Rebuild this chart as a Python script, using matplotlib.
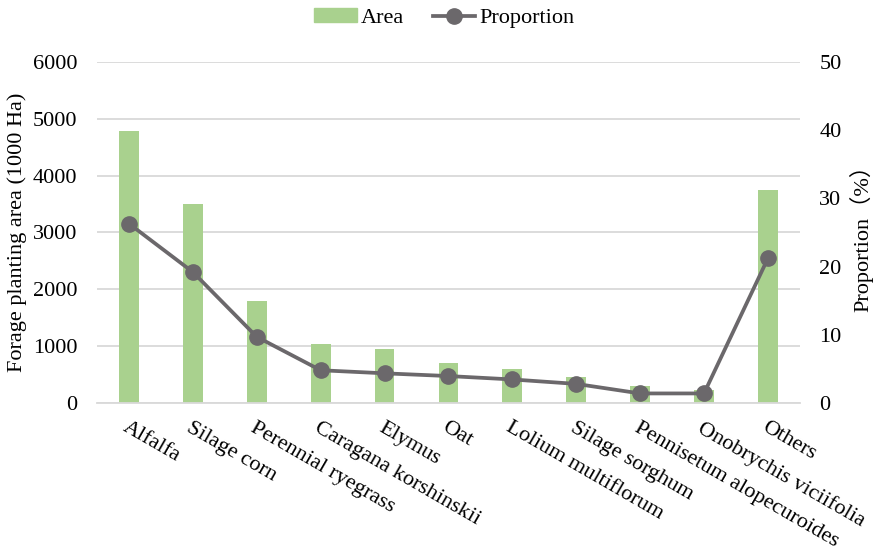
import matplotlib.pyplot as plt
from matplotlib.lines import Line2D
from matplotlib.patches import Patch

plt.rcParams['font.family'] = ['Liberation Serif', 'Noto Sans CJK SC']

# data
crops = ['Alfalfa', 'Silage corn', 'Perennial ryegrass', 'Caragana korshinskii',
         'Elymus', 'Oat', 'Lolium multiflorum', 'Silage sorghum',
         'Pennisetum alopecuroides', 'Onobrychis viciifolia', 'Others']
area = [4780, 3500, 1790, 1040, 945, 700, 590, 450, 300, 230, 3740]
proportion = [26.3, 19.2, 9.7, 4.8, 4.35, 3.95, 3.45, 2.8, 1.4, 1.4, 21.2]

green = '#A9D18E'
grey = '#6B686B'
fs = 16

fig = plt.figure(figsize=(8.77, 5.5), dpi=100)
ax = fig.add_axes([0.1106, 0.2673, 0.8014, 0.62])
x = range(len(crops))
ax.bar(x, area, width=0.31, color=green, zorder=2)
ax.set_ylim(0, 6000)
ax.set_xlim(-0.5, len(crops) - 0.5)
ax.set_yticks(range(0, 6001, 1000))
ax.grid(axis='y', color='#D9D9D9', linewidth=1.3, zorder=0)
ax.set_axisbelow(True)
for s in ['top', 'right', 'left']:
    ax.spines[s].set_visible(False)
ax.spines['bottom'].set_color('#D9D9D9')
ax.spines['bottom'].set_linewidth(1.3)
ax.tick_params(axis='both', length=0, labelsize=fs, pad=14)
ax.set_ylabel('Forage planting area (1000 Ha)', fontsize=fs, labelpad=4)

ax.set_xticks(list(x))
ax.set_xticklabels(crops, rotation=-30, rotation_mode='anchor',
                   ha='left', va='top', fontsize=fs)
ax.tick_params(axis='x', pad=11)

ax2 = ax.twinx()
ax2.plot(x, proportion, color=grey, linewidth=2.7, marker='o',
         markersize=11, zorder=3)
ax2.set_ylim(0, 50)
ax2.set_yticks(range(0, 51, 10))
for s in ax2.spines.values():
    s.set_visible(False)
ax2.tick_params(axis='y', length=0, labelsize=fs, pad=14)
ax2.set_ylabel('Proportion（%）', fontsize=fs, labelpad=6)

handles = [Patch(color=green),
           Line2D([], [], color=grey, linewidth=2.7, marker='o', markersize=11)]
fig.legend(handles, ['Area', 'Proportion'], loc='center',
           bbox_to_anchor=(0.507, 0.967), ncol=2, frameon=False,
           fontsize=fs, handlelength=1.9, handleheight=0.6,
           columnspacing=1.3, handletextpad=0.2)

fig.savefig('out.png', dpi=100)
